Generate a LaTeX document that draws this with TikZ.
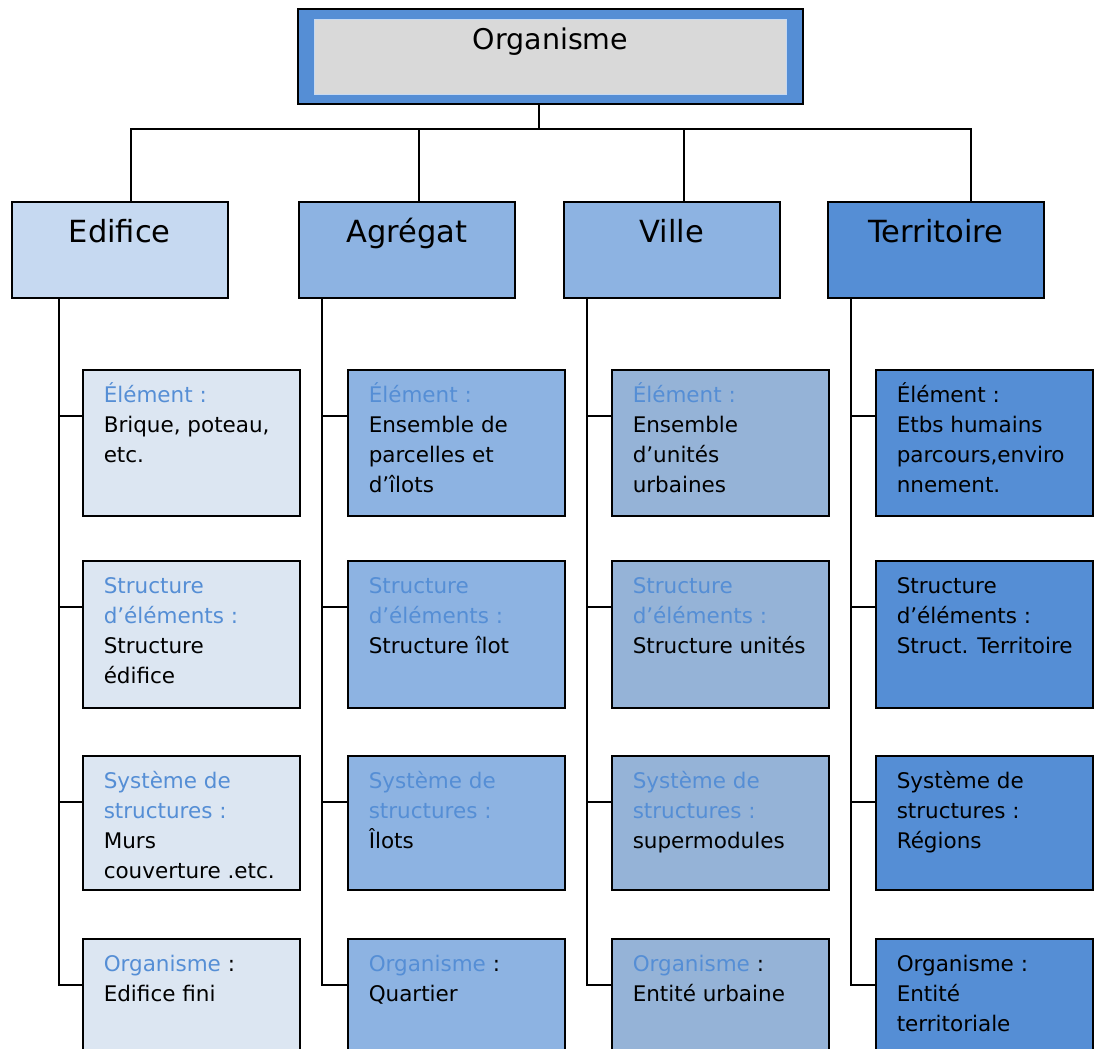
\documentclass[tikz,border=0pt]{standalone}
\usepackage{fontspec}
\setmainfont{DejaVu Sans}
\usepackage{xcolor}
\usepackage{tikz}

\definecolor{darkblue}{HTML}{558ED5}
\definecolor{midblue}{HTML}{8DB3E2}
\definecolor{paleblue}{HTML}{C6D9F1}
\definecolor{edchild}{HTML}{DCE6F2}
\definecolor{vichild}{HTML}{95B3D7}
\definecolor{titlegray}{HTML}{D9D9D9}
\definecolor{lblue}{HTML}{558ED5}

\newcommand{\boxtext}[2]{\parbox[t][#1][t]{217pt}{\leftskip=21pt\rightskip=0pt plus 1fil\rule{0pt}{33pt}#2}}

\tikzset{
  header/.style={draw, line width=1.5pt, anchor=north west, inner sep=0pt,
    minimum width=216pt, text height=41pt, text depth=55pt,
    font=\fontsize{30.5}{36}\selectfont},
  childbox/.style={draw, line width=1.5pt, anchor=north west, inner sep=0pt,
    font=\fontsize{21.5}{30}\selectfont},
  link/.style={line width=1.6pt}
}

\begin{document}
\begin{tikzpicture}[x=1pt, y={(0pt,-1pt)}]
        \clip (0,0) rectangle (1109,1049);

        % Title
        \node[draw, line width=1.5pt, fill=darkblue, minimum width=505pt, minimum height=95pt, inner sep=0pt] (title) at (550.5,56.5) {};
        \node[draw=paleblue, line width=0.8pt, fill=titlegray, minimum width=472pt, inner sep=0pt,
              text height=31pt, text depth=44pt, font=\fontsize{28.5}{34}\selectfont] (titlebox) at (title.center) {Organisme};

        % Level headers
        \node[header, fill=paleblue] (ed) at (11,201) {Edifice};
        \node[header, fill=midblue] (ag) at (298,201) {Agrégat};
        \node[header, fill=midblue] (vi) at (563,201) {Ville};
        \node[header, fill=darkblue] (te) at (827,201) {Territoire};

        % Edifice
        \node[childbox, fill=edchild] (ed1) at (82,369) {\boxtext{146pt}{\textcolor{lblue}{Élément :}\\Brique, poteau,\\etc.}};
        \node[childbox, fill=edchild] (ed2) at (82,560) {\boxtext{147pt}{\textcolor{lblue}{Structure\\d’éléments :}\\Structure\\édifice}};
        \node[childbox, fill=edchild] (ed3) at (82,755) {\boxtext{134pt}{\textcolor{lblue}{Système de\\structures :}\\Murs\\couverture .etc.}};
        \node[childbox, fill=edchild] (ed4) at (82,938) {\boxtext{140pt}{\textcolor{lblue}{Organisme} :\\Edifice fini}};

        % Agregat
        \node[childbox, fill=midblue] (ag1) at (347,369) {\boxtext{146pt}{\textcolor{lblue}{Élément :}\\Ensemble de\\parcelles et\\d’îlots}};
        \node[childbox, fill=midblue] (ag2) at (347,560) {\boxtext{147pt}{\textcolor{lblue}{Structure\\d’éléments :}\\Structure îlot}};
        \node[childbox, fill=midblue] (ag3) at (347,755) {\boxtext{134pt}{\textcolor{lblue}{Système de\\structures :}\\Îlots}};
        \node[childbox, fill=midblue] (ag4) at (347,938) {\boxtext{140pt}{\textcolor{lblue}{Organisme} :\\Quartier}};

        % Ville
        \node[childbox, fill=vichild] (vi1) at (611,369) {\boxtext{146pt}{\textcolor{lblue}{Élément :}\\Ensemble\\d’unités\\urbaines}};
        \node[childbox, fill=vichild] (vi2) at (611,560) {\boxtext{147pt}{\textcolor{lblue}{Structure\\d’éléments :}\\Structure unités}};
        \node[childbox, fill=vichild] (vi3) at (611,755) {\boxtext{134pt}{\textcolor{lblue}{Système de\\structures :}\\supermodules}};
        \node[childbox, fill=vichild] (vi4) at (611,938) {\boxtext{140pt}{\textcolor{lblue}{Organisme} :\\Entité urbaine}};

        % Territoire
        \node[childbox, fill=darkblue] (te1) at (875,369) {\boxtext{146pt}{Élément :\\Etbs humains\\parcours,enviro\\nnement.}};
        \node[childbox, fill=darkblue] (te2) at (875,560) {\boxtext{147pt}{Structure\\d’éléments :\\Struct. Territoire}};
        \node[childbox, fill=darkblue] (te3) at (875,755) {\boxtext{134pt}{Système de\\structures :\\Régions}};
        \node[childbox, fill=darkblue] (te4) at (875,938) {\boxtext{140pt}{Organisme :\\Entité\\territoriale}};

        % Connectors from the title to the headers
        \coordinate (bus) at (539,129);
        \draw[link] ([xshift=-11.5pt]title.south) -- (bus);
        \foreach \col/\off in {ed/11,ag/12,vi/12,te/35} {
            \draw[link] ([xshift=\off pt]\col.north) |- (bus);
        }

        % Trunks and branches
        \foreach \col/\off in {ed/48,ag/24,vi/24,te/24} {
            \coordinate (\col trunk) at ([xshift=\off pt]\col.south west);
            \foreach \k in {1,...,4} {
                \draw[link] ([yshift=-47pt]\col\k.north west) -| (\col trunk);
            }
        }
    \end{tikzpicture}
\end{document}
